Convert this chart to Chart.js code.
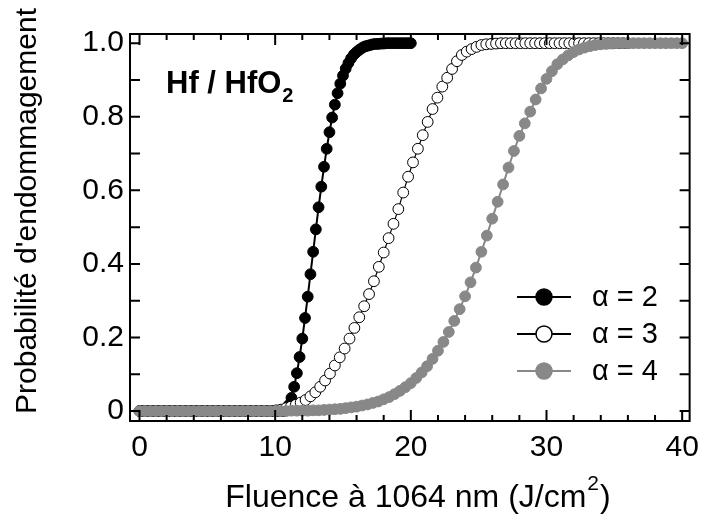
<!DOCTYPE html>
<html><head><meta charset="utf-8">
<script src="https://cdn.jsdelivr.net/npm/chart.js@4"></script>
<style>html,body{margin:0;padding:0;background:#fff;}canvas{display:block;}</style>
</head><body>
<canvas id="c" width="708" height="515"></canvas>
<script>
const seriesNames = ['α = 2', 'α = 3', 'α = 4'];

const x2 = [
0,0.2,0.4,0.6,0.8,1,1.2,1.4,1.6,1.8,
2,2.2,2.4,2.6,2.8,3,3.2,3.4,3.6,3.8,
4,4.2,4.4,4.6,4.8,5,5.2,5.4,5.6,5.8,
6,6.2,6.4,6.6,6.8,7,7.2,7.4,7.6,7.8,
8,8.2,8.4,8.6,8.8,9,9.2,9.4,9.6,9.8,
10,10.2,10.4,10.6,10.8,11,11.2,11.4,11.6,11.8,
12,12.2,12.4,12.6,12.8,13,13.2,13.4,13.6,13.8,
14,14.2,14.4,14.6,14.8,15,15.2,15.4,15.6,15.8,
16,16.2,16.4,16.6,16.8,17,17.2,17.4,17.6,17.8,
18,18.2,18.4,18.6,18.8,19,19.2,19.4,19.6,19.8,
20];
const y2 = [
0,0,0,0,0,0,0,0,0,0,
0,0,0,0,0,0,0,0,0,0,
0,0,0,0,0,0,0,0,0,0,
0,0,0,0,0,0,0,0,0,0,
0,0,0,0,0,0,0,0,0,0,
0,0,0,0,0.004,0.016,0.036,0.066,0.103,0.147,
0.197,0.253,0.311,0.372,0.433,0.494,0.554,0.610,0.664,0.713,
0.758,0.798,0.833,0.864,0.890,0.912,0.931,0.946,0.959,0.969,
0.976,0.982,0.987,0.991,0.993,0.995,0.997,0.998,0.998,0.999,
0.999,1,1,1,1,1,1,1,1,1,
1];

const x3 = [
0,0.36,0.72,1.08,1.44,1.8,2.16,2.52,2.88,3.24,
3.6,3.96,4.32,4.68,5.04,5.4,5.76,6.12,6.48,6.84,
7.2,7.56,7.92,8.28,8.64,9,9.36,9.72,10.08,10.44,
10.8,11.16,11.52,11.88,12.24,12.6,12.96,13.32,13.68,14.04,
14.4,14.76,15.12,15.48,15.84,16.2,16.56,16.92,17.28,17.64,
18,18.36,18.72,19.08,19.44,19.8,20.16,20.52,20.88,21.24,
21.6,21.96,22.32,22.68,23.04,23.4,23.76,24.12,24.48,24.84,
25.2,25.56,25.92,26.28,26.64,27,27.36,27.72,28.08,28.44,
28.8,29.16,29.52,29.88,30.24,30.6,30.96,31.32,31.68,32.04,
32.4,32.76,33.12,33.48,33.84,34.2,34.56,34.92,35.28,35.64,
36];
const y3 = [
0,0,0,0,0,0,0,0,0,0,
0,0,0,0,0,0,0,0,0,0,
0,0,0,0,0,0,0,0,0.002,0.004,
0.008,0.012,0.017,0.023,0.030,0.040,0.051,0.066,0.083,0.102,
0.124,0.146,0.170,0.197,0.226,0.255,0.285,0.318,0.353,0.392,
0.431,0.470,0.509,0.549,0.594,0.637,0.676,0.713,0.750,0.786,
0.821,0.852,0.882,0.906,0.930,0.951,0.968,0.977,0.984,0.990,
0.995,0.997,0.998,0.999,1,1,1,1,1,1,
1,1,1,1,1,1,1,1,1,1,
1,1,1,1,1,1,1,1,1,1,
1];

const x4 = [
0,0.4,0.8,1.2,1.6,2,2.4,2.8,3.2,3.6,
4,4.4,4.8,5.2,5.6,6,6.4,6.8,7.2,7.6,
8,8.4,8.8,9.2,9.6,10,10.4,10.8,11.2,11.6,
12,12.4,12.8,13.2,13.6,14,14.4,14.8,15.2,15.6,
16,16.4,16.8,17.2,17.6,18,18.4,18.8,19.2,19.6,
20,20.4,20.8,21.2,21.6,22,22.4,22.8,23.2,23.6,
24,24.4,24.8,25.2,25.6,26,26.4,26.8,27.2,27.6,
28,28.4,28.8,29.2,29.6,30,30.4,30.8,31.2,31.6,
32,32.4,32.8,33.2,33.6,34,34.4,34.8,35.2,35.6,
36,36.4,36.8,37.2,37.6,38,38.4,38.8,39.2,39.6,
40];
const y4 = [
0,0,0,0,0,0,0,0,0,0,
0,0,0,0,0,0,0,0,0,0,
0,0,0,0,0,0,0,0,0.001,0.001,
0.001,0.001,0.002,0.002,0.003,0.004,0.005,0.006,0.008,0.010,
0.012,0.015,0.018,0.022,0.026,0.032,0.038,0.046,0.055,0.065,
0.076,0.090,0.105,0.122,0.142,0.164,0.188,0.215,0.245,0.277,
0.312,0.350,0.390,0.433,0.477,0.523,0.569,0.616,0.662,0.707,
0.748,0.782,0.814,0.847,0.877,0.903,0.924,0.943,0.956,0.967,
0.976,0.983,0.988,0.992,0.995,0.997,0.998,0.999,1,1,
1,1,1,1,1,1,1,1,1,1,
1];

const xTicks = [0, 10, 20, 30, 40];
const xMinorTicks = [2,4,6,8,12,14,16,18,22,24,26,28,32,34,36,38];
const yTicks = [0, 0.2, 0.4, 0.6, 0.8, 1.0];
const yTickLabels = ['0', '0.2', '0.4', '0.6', '0.8', '1.0'];
const yMinorTicks = [0.1, 0.3, 0.5, 0.7, 0.9];
const xTitleParts = ['Fluence à 1064 nm (J/cm', '2', ')'];
const yTitle = "Probabilité d'endommagement";
const noteParts = ['Hf / HfO', '2'];

const FONT = '"Liberation Sans", Arial, Helvetica, sans-serif';
const GRAY = '#888888';

const styles = [
  {line:'#000', lw:2, fill:'#000', stroke:'#000', r:5.4},
  {line:'#000', lw:1.2, fill:'#fff', stroke:'#000', r:5.4},
  {line:GRAY, lw:2, fill:GRAY, stroke:GRAY, r:5.4}
];

function pts(xs, ys){ return xs.map((x,i)=>({x:x, y:ys[i]})); }

const decor = {
  id: 'decor',
  afterDatasetsDraw(chart){
    const ctx = chart.ctx, a = chart.chartArea, xs = chart.scales.x, ys = chart.scales.y;
    ctx.save();
    ctx.strokeStyle = '#000';
    ctx.lineWidth = 2;
    ctx.strokeRect(a.left, a.top, a.right - a.left, a.bottom - a.top);
    ctx.beginPath();
    const xt = (v, len) => {
      const p = xs.getPixelForValue(v);
      ctx.moveTo(p, a.bottom); ctx.lineTo(p, a.bottom - len);
      ctx.moveTo(p, a.top); ctx.lineTo(p, a.top + len);
    };
    const yt = (v, len) => {
      const p = ys.getPixelForValue(v);
      ctx.moveTo(a.left, p); ctx.lineTo(a.left + len, p);
      ctx.moveTo(a.right, p); ctx.lineTo(a.right - len, p);
    };
    xTicks.forEach(v => xt(v, 11));
    xMinorTicks.forEach(v => xt(v, 6));
    yTicks.forEach(v => yt(v, 10));
    yMinorTicks.forEach(v => yt(v, 10));
    ctx.stroke();

    ctx.fillStyle = '#000';
    // y title
    ctx.save();
    ctx.translate(36, 211);
    ctx.rotate(-Math.PI / 2);
    ctx.font = '30px ' + FONT;
    ctx.textAlign = 'center';
    ctx.textBaseline = 'alphabetic';
    ctx.fillText(yTitle, 0, 0);
    ctx.restore();

    // x title with superscript
    ctx.textBaseline = 'alphabetic';
    ctx.textAlign = 'left';
    ctx.font = '32px ' + FONT;
    const w0 = ctx.measureText(xTitleParts[0]).width;
    const w2 = ctx.measureText(xTitleParts[2]).width;
    ctx.font = '21px ' + FONT;
    const w1 = ctx.measureText(xTitleParts[1]).width;
    let tx = 417 - (w0 + w1 + w2) / 2;
    ctx.font = '32px ' + FONT;
    ctx.fillText(xTitleParts[0], tx, 507);
    ctx.font = '21px ' + FONT;
    ctx.fillText(xTitleParts[1], tx + w0 + 1, 490);
    ctx.font = '32px ' + FONT;
    ctx.fillText(xTitleParts[2], tx + w0 + w1 + 2, 507);

    // annotation
    ctx.font = 'bold 31px ' + FONT;
    ctx.fillText(noteParts[0], 166, 93);
    const wn = ctx.measureText(noteParts[0]).width;
    ctx.font = 'bold 20px ' + FONT;
    ctx.fillText(noteParts[1], 166 + wn + 1, 102);

    // legend
    const rows = [297, 334, 371];
    rows.forEach((ry, i) => {
      const s = styles[i];
      ctx.strokeStyle = s.line;
      ctx.lineWidth = 2;
      ctx.beginPath(); ctx.moveTo(517, ry); ctx.lineTo(571, ry); ctx.stroke();
      ctx.beginPath(); ctx.arc(544, ry, 8, 0, Math.PI * 2);
      ctx.fillStyle = s.fill; ctx.fill();
      ctx.lineWidth = 1.5; ctx.strokeStyle = s.stroke; ctx.stroke();
      ctx.fillStyle = '#000';
      ctx.font = '29px ' + FONT;
      ctx.textBaseline = 'middle';
      ctx.fillText(seriesNames[i], 592, ry + 1);
      ctx.textBaseline = 'alphabetic';
    });
    ctx.restore();
  }
};

const sets = [[x2, y2], [x3, y3], [x4, y4]];
const datasets = sets.map((d, i) => ({
  label: seriesNames[i],
  data: pts(d[0], d[1]),
  showLine: true,
  borderColor: styles[i].line,
  borderWidth: styles[i].lw,
  pointRadius: styles[i].r,
  pointHoverRadius: styles[i].r,
  pointBorderWidth: 1,
  pointBackgroundColor: styles[i].fill,
  pointBorderColor: styles[i].stroke,
  tension: 0,
  order: 2 - i
}));

new Chart(document.getElementById('c'), {
  type: 'scatter',
  data: { datasets: datasets },
  options: {
    responsive: false,
    animation: false,
    devicePixelRatio: 1,
    layout: { padding: { top: 34, right: 11, left: 0, bottom: 0 } },
    plugins: { legend: { display: false }, tooltip: { enabled: false } },
    scales: {
      x: {
        type: 'linear', min: -0.7, max: 40.55,
        grid: { display: false, drawTicks: false },
        border: { display: false },
        afterBuildTicks: s => { s.ticks = xTicks.map(v => ({ value: v })); },
        afterFit: s => { s.height = 94; },
        ticks: { font: { family: FONT, size: 30 }, color: '#000', padding: 9, maxRotation: 0, autoSkip: false,
                 callback: v => String(v) }
      },
      y: {
        type: 'linear', min: -0.027, max: 1.025,
        grid: { display: false, drawTicks: false },
        border: { display: false },
        afterBuildTicks: s => { s.ticks = yTicks.map(v => ({ value: v })); },
        afterFit: s => { s.width = 130; },
        ticks: { font: { family: FONT, size: 30 }, color: '#000', padding: 6, autoSkip: false,
                 callback: (v, i) => yTickLabels[i] }
      }
    }
  },
  plugins: [decor]
});
</script>
</body></html>
